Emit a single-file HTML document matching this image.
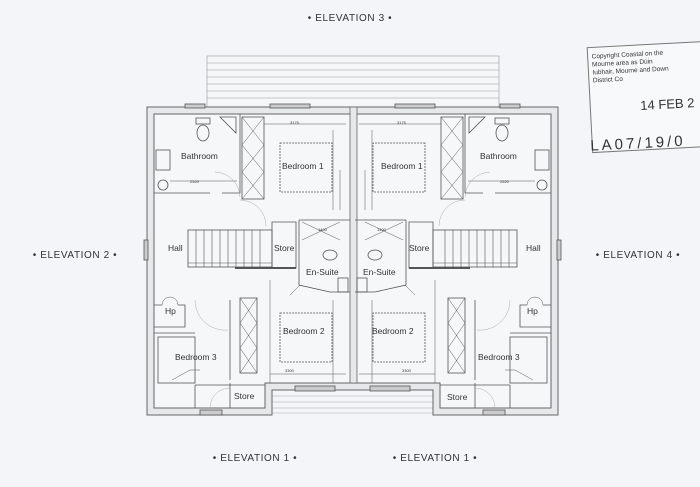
<!DOCTYPE html>
<html><head><meta charset="utf-8"><style>
html,body{margin:0;padding:0;background:#f3f5f8;}
svg{display:block}
text{font-family:"Liberation Sans",sans-serif;fill:#333}
</style></head><body>
<svg width="700" height="487" viewBox="0 0 700 487" xmlns="http://www.w3.org/2000/svg">
<rect width="700" height="487" fill="#f3f5f8"/>
<!-- elevation labels -->
<g font-size="10" letter-spacing="0.6">
<text x="350" y="21" text-anchor="middle">• ELEVATION 3 •</text>
<text x="75" y="258" text-anchor="middle">• ELEVATION 2 •</text>
<text x="638" y="258" text-anchor="middle">• ELEVATION 4 •</text>
<text x="255" y="461" text-anchor="middle">• ELEVATION 1 •</text>
<text x="435" y="461" text-anchor="middle">• ELEVATION 1 •</text>
</g>
<!-- balcony top -->
<g stroke="#999" stroke-width="0.6" fill="none">
<rect x="207" y="56" width="292" height="51" fill="#f5f6f8"/>
<line x1="207" y1="63" x2="499" y2="63"/><line x1="207" y1="70" x2="499" y2="70"/>
<line x1="207" y1="77" x2="499" y2="77"/><line x1="207" y1="84" x2="499" y2="84"/>
<line x1="207" y1="91" x2="499" y2="91"/><line x1="207" y1="98" x2="499" y2="98"/>
</g>
<!-- bottom steps -->
<g stroke="#aaa" stroke-width="0.6" fill="none">
<line x1="272" y1="396" x2="433" y2="396"/><line x1="272" y1="402" x2="433" y2="402"/>
<line x1="272" y1="408" x2="433" y2="408"/><line x1="272" y1="413" x2="433" y2="413"/>
</g>
<!-- outer walls -->
<path d="M147 107 H558 V415 H433 V390 H272 V415 H147 Z" fill="#e6e8ea" stroke="#666" stroke-width="1"/>
<path d="M154 114 H551 V408 H440 V383 H265 V408 H154 Z" fill="#f6f7f9" stroke="#666" stroke-width="1"/>
<!-- party wall -->
<rect x="350" y="107" width="7" height="276" fill="#e6e8ea" stroke="#666" stroke-width="0.8"/>
<g id="half" stroke="#555" stroke-width="0.8" fill="none">
 <!-- bathroom -->
 <path d="M154 193 H210 M222 193 H240 V114"/>
 <rect x="156" y="150" width="14" height="20"/>
 <circle cx="163" cy="185" r="5"/>
 <rect x="196" y="118" width="14" height="6"/><ellipse cx="203" cy="133" rx="6" ry="8"/>
 <path d="M220 117 L236 117 L236 133 Z"/>
 <path d="M170 181 H237" stroke-width="0.5"/>
 <!-- wardrobes top -->
 <rect x="242" y="117" width="22" height="82"/>
 <path d="M242 117 L264 145 M264 117 L242 145 M242 145 L264 172 M264 145 L242 172 M242 172 L264 199 M264 172 L242 199" stroke-width="0.5"/>
 <path d="M264 124 H346" stroke-width="0.5"/>
 <!-- bed 1 -->
 <rect x="280" y="143" width="52" height="49" stroke-dasharray="2 1"/>
 <path d="M333 130 V210 M340 170 V210" stroke-width="0.5"/>
 <!-- hall doors arcs -->
 <path d="M215 172 A26 26 0 0 1 240 197" stroke="#aaa" stroke-width="0.5"/>
 <path d="M240 200 A26 26 0 0 1 266 226" stroke="#aaa" stroke-width="0.5"/>
 <!-- stairs -->
 <rect x="188" y="230" width="84" height="37"/>
 <path d="M196 230 V267 M204 230 V267 M212 230 V267 M220 230 V267 M228 230 V267 M236 230 V267 M244 230 V267 M252 230 V267 M260 230 V267 M188 263 H272" stroke-width="0.6"/>
 <path d="M272 222 V268 H296 V222 Z"/>
 <path d="M235 268 H296" stroke-width="2"/>
 <!-- ensuite -->
 <path d="M299 220 V285 L330 292 H350 M299 220 H350"/>
 <path d="M302 222 L340 240 M340 222 L302 240" stroke-width="0.5"/>
 <ellipse cx="330" cy="255" rx="7" ry="5"/><rect x="338" y="278" width="10" height="14"/>
 <path d="M300 285 L290 295" stroke-width="0.5"/>
 <!-- Hp -->
 <path d="M154 305 H162 M178 305 H185 V327 H154"/>
 <path d="M162 305 A8 8 0 0 1 170 297 M178 305 A8 8 0 0 0 170 297" stroke-width="0.5"/>
 <!-- lower walls -->
 <path d="M154 333 H195 M230 300 V380 M230 383 V408" />
 <path d="M195 300 A30 30 0 0 0 228 330" stroke="#aaa" stroke-width="0.5"/>
 <rect x="240" y="298" width="17" height="75"/>
 <path d="M240 298 L257 323 M257 298 L240 323 M240 323 L257 348 M257 323 L240 348 M240 348 L257 373 M257 348 L240 373" stroke-width="0.5"/>
 <path d="M270 280 V383" stroke-width="0.5"/>
 <rect x="280" y="313" width="52" height="49" stroke-dasharray="2 1"/>
 <path d="M270 374 H346 M333 300 V383" stroke-width="0.5"/>
 <!-- bed 3 -->
 <rect x="158" y="337" width="37" height="46"/>
 <path d="M172 380 L190 370 L200 370" stroke-width="0.5"/>
 <!-- store bottom -->
 <path d="M195 385 H265 M195 385 V408"/>
 <path d="M210 408 A20 20 0 0 1 230 388" stroke="#aaa" stroke-width="0.5"/>
 <!-- windows -->
 <rect x="185" y="104" width="20" height="4" fill="#ccc"/>
 <rect x="270" y="104" width="40" height="4" fill="#ccc"/>
 <rect x="144" y="240" width="4" height="20" fill="#ccc"/>
 <rect x="200" y="410" width="22" height="5" fill="#ccc"/>
 <rect x="295" y="386" width="40" height="5" fill="#ccc"/>
</g>
<use href="#half" transform="translate(705,0) scale(-1,1)"/>
<!-- room labels -->
<g font-size="8.5" fill="#333">
<text x="181" y="159">Bathroom</text>
<text x="282" y="169">Bedroom 1</text>
<text x="168" y="251">Hall</text>
<text x="274" y="251">Store</text>
<text x="306" y="275">En-Suite</text>
<text x="165" y="314">Hp</text>
<text x="283" y="334">Bedroom 2</text>
<text x="175" y="360">Bedroom 3</text>
<text x="234" y="399">Store</text>
<text x="480" y="159">Bathroom</text>
<text x="381" y="169">Bedroom 1</text>
<text x="526" y="251">Hall</text>
<text x="409" y="251">Store</text>
<text x="363" y="275">En-Suite</text>
<text x="527" y="314">Hp</text>
<text x="372" y="334">Bedroom 2</text>
<text x="478" y="360">Bedroom 3</text>
<text x="447" y="400">Store</text>
</g>
<g font-size="4" fill="#555">
<text x="290" y="124">3175</text><text x="397" y="124">3175</text>
<text x="190" y="183">2520</text><text x="500" y="183">2520</text>
<text x="318" y="231">1400</text><text x="377" y="231">1400</text>
<text x="285" y="372">3300</text><text x="402" y="372">3300</text>
</g>
<!-- stamp -->
<g transform="rotate(-3 640 100)">
<rect x="590" y="45" width="120" height="105" fill="#f8f9fb" stroke="#777" stroke-width="1"/>
<g font-size="6.5" fill="#888">
<text x="594" y="56">Copyright Coastal on the</text>
<text x="594" y="64">Mourne area as Dúin</text>
<text x="594" y="72">Iubhair, Mourne and Down</text>
<text x="594" y="80">District Co</text>
</g>
<text x="640" y="110" font-size="13" fill="#555">14 FEB 2</text>
<text x="588" y="148" font-size="15" fill="#333" letter-spacing="3" font-family="Liberation Mono,monospace">LA07/19/0</text>
</g>
</svg>
</body></html>
